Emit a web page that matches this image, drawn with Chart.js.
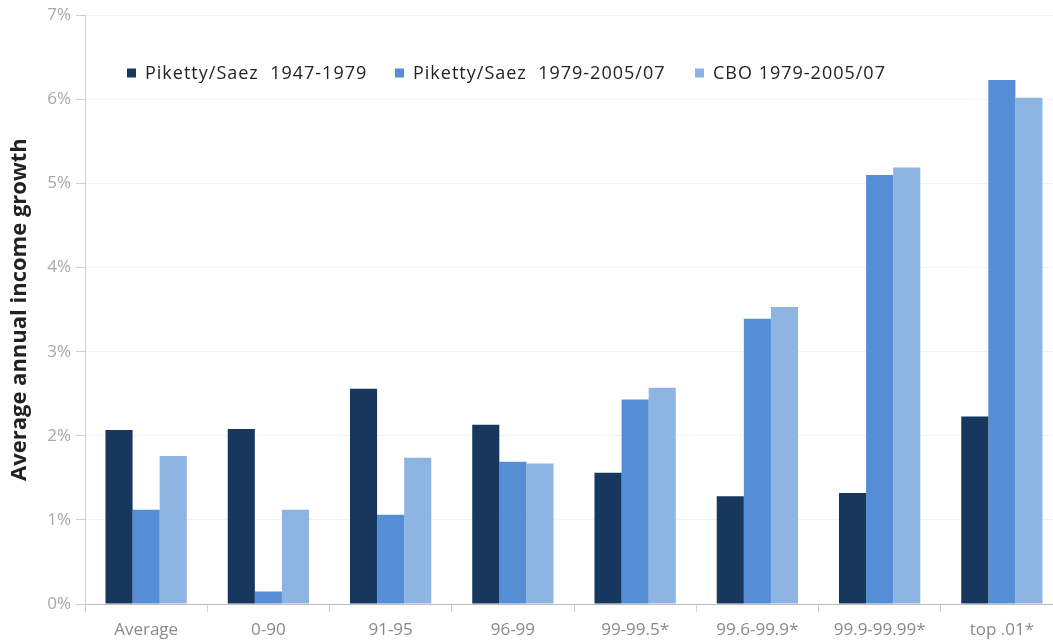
<!DOCTYPE html>
<html><head><meta charset="utf-8">
<script src="https://cdn.jsdelivr.net/npm/chart.js@4"></script>
<style>
html,body{margin:0;padding:0;overflow:hidden;background:#fff;width:1053px;height:643px}
#wrap{width:1064px;height:643px}
</style></head>
<body><div id="wrap"><canvas id="c" width="1064" height="643"></canvas></div>
<script>
const categories = ['Average','0-90','91-95','96-99','99-99.5*','99.6-99.9*','99.9-99.99*','top .01*'];
const seriesNames = ['Piketty/Saez  1947-1979','Piketty/Saez  1979-2005/07','CBO 1979-2005/07'];
const pikettySaez1947_1979 = [2.07, 2.08, 2.56, 2.13, 1.56, 1.28, 1.32, 2.23];
const pikettySaez1979_2007 = [1.12, 0.15, 1.06, 1.69, 2.43, 3.39, 5.10, 6.23];
const cbo1979_2007 = [1.76, 1.12, 1.74, 1.67, 2.57, 3.53, 5.19, 6.02];
const yTicks = [0, 1, 2, 3, 4, 5, 6, 7];
const colors = ['#17375e', '#558ed5', '#8eb4e3'];

const insideLegend = {
  id: 'insideLegend',
  afterDraw(chart) {
    const ctx = chart.ctx;
    const xs = [127, 395, 695];
    const y = 73;
    ctx.save();
    ctx.font = '18px "Open Sans"';
    try { ctx.letterSpacing = '1px'; } catch (e) {}
    ctx.textBaseline = 'middle';
    chart.data.datasets.forEach((ds, i) => {
      ctx.fillStyle = ds.backgroundColor;
      ctx.fillRect(xs[i], y - 4.5, 9, 9);
      ctx.fillStyle = '#222';
      ctx.fillText(ds.label, xs[i] + 18, y + 1);
    });
    ctx.restore();
  }
};

new Chart(document.getElementById('c'), {
  type: 'bar',
  data: {
    labels: categories,
    datasets: [
      { label: seriesNames[0], data: pikettySaez1947_1979, backgroundColor: colors[0] },
      { label: seriesNames[1], data: pikettySaez1979_2007, backgroundColor: colors[1] },
      { label: seriesNames[2], data: cbo1979_2007, backgroundColor: colors[2] }
    ]
  },
  options: {
    responsive: false,
    animation: false,
    layout: { padding: { top: 15, right: 1, left: 0, bottom: 0 } },
    datasets: { bar: { categoryPercentage: 0.665, barPercentage: 1.0 } },
    plugins: { legend: { display: false }, tooltip: { enabled: false } },
    scales: {
      x: {
        grid: { display: true, drawOnChartArea: false, tickLength: 8, tickColor: '#cfcfcf', offset: true },
        border: { color: '#bdbdbd' },
        ticks: { color: '#8a8a8a', font: { family: 'Open Sans', size: 17 }, padding: 8, maxRotation: 0 },
        afterFit: s => { s.height = 39; }
      },
      y: {
        min: 0, max: 7,
        afterBuildTicks: s => { s.ticks = yTicks.map(v => ({ value: v })); },
        grid: { color: '#f3f3f3', tickColor: '#cfcfcf', tickLength: 9 },
        border: { color: '#d0d0d0' },
        ticks: { color: '#a8a8a8', font: { family: 'Open Sans', size: 17 }, padding: 5, callback: v => v + '%' },
        title: { display: true, text: 'Average annual income growth', color: '#222', font: { family: 'Open Sans', size: 22, weight: 'bold' }, padding: { top: 7, bottom: 0 } },
        afterFit: s => { s.width = 85; }
      }
    }
  },
  plugins: [insideLegend]
});
</script>
</body></html>
